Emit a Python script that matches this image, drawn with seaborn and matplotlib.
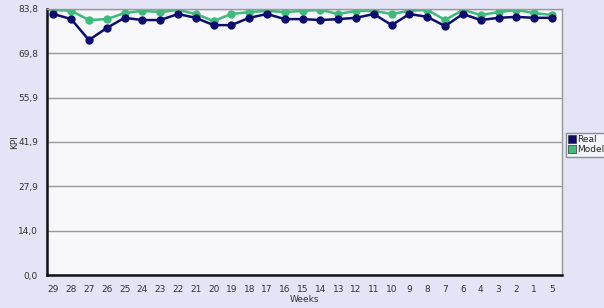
import matplotlib
matplotlib.use("Agg")
import matplotlib.pyplot as plt
from matplotlib.lines import Line2D
import numpy as np
import pandas as pd
import seaborn as sns

weeks = ["29", "28", "27", "26", "25", "24", "23", "22", "21", "20", "19", "18", "17", "16",
         "15", "14", "13", "12", "11", "10", "9", "8", "7", "6", "4", "3", "2", "1", "5"]
real = [82.2, 80.6, 74.0, 77.8, 81.0, 80.3, 80.3, 82.2, 81.0, 78.7, 78.7, 81.0, 82.2, 80.6,
        80.6, 80.3, 80.6, 81.0, 82.2, 78.7, 82.2, 81.3, 78.4, 82.2, 80.3, 81.0, 81.3, 81.0, 81.0]
model = [83.5, 83.2, 80.3, 80.6, 82.5, 83.2, 82.8, 83.5, 82.2, 80.0, 82.2, 82.8, 83.2, 82.8,
         83.2, 83.5, 82.2, 83.2, 83.2, 82.2, 83.2, 83.5, 80.3, 83.5, 81.9, 82.8, 83.5, 82.5, 81.9]
yticks = [0.0, 14.0, 27.9, 41.9, 55.9, 69.8, 83.8]

c_real = "#0d0d70"
c_model = "#3dbb7a"

df = pd.DataFrame({"Weeks": weeks * 2,
                   "KPI": real + model,
                   "serie": ["Real"] * len(weeks) + ["Model"] * len(weeks)})

sns.set_style("white")
plt.rcParams["font.family"] = ["DejaVu Sans"]

fig = plt.figure(figsize=(6.04, 3.08), dpi=100, facecolor="#e4e4f6")
ax = fig.add_axes([0.078, 0.107, 0.852, 0.864])
ax.set_facecolor("#f7f7fc")

sns.lineplot(data=df, x="Weeks", y="KPI", hue="serie", hue_order=["Model", "Real"],
             palette={"Real": c_real, "Model": c_model}, sort=False,
             marker="o", markersize=6, markeredgewidth=0, linewidth=1.8,
             legend=False, ax=ax)

ax.set_ylim(0, 83.8)
ax.set_xlim(-0.35, len(weeks) - 0.45)
ax.set_yticks(yticks)
ax.set_yticklabels([f"{v:.1f}".replace(".", ",") for v in yticks])
ax.grid(axis="y", color="#999999", linewidth=1)
ax.set_axisbelow(True)
ax.tick_params(axis="both", labelsize=6.5, colors="#333333", length=3, width=1.5,
               direction="out")
ax.tick_params(axis="x", pad=4)
for s in ["top", "right"]:
    ax.spines[s].set_color("#999999")
    ax.spines[s].set_linewidth(1)
for s in ["left", "bottom"]:
    ax.spines[s].set_color("#111111")
    ax.spines[s].set_linewidth(1.8)

ax.set_xlabel("Weeks", fontsize=6.5, color="#333333", labelpad=1)
ax.set_ylabel("KPI", fontsize=6.5, color="#333333", labelpad=1)
ax.yaxis.set_label_coords(-0.055, 0.5)

handles = [Line2D([], [], marker="s", linestyle="none", markersize=6,
                  markerfacecolor=c_real, markeredgecolor="#333333", markeredgewidth=0.5),
           Line2D([], [], marker="s", linestyle="none", markersize=6,
                  markerfacecolor=c_model, markeredgecolor="#333333", markeredgewidth=0.5)]
leg = fig.legend(handles, ["Real", "Model"], loc="center left", bbox_to_anchor=(0.937, 0.53),
                 fontsize=6.5, frameon=True, fancybox=False, handletextpad=0.1,
                 borderpad=0.3, labelspacing=0.1, handlelength=0.8, borderaxespad=0)
leg.get_frame().set_edgecolor("#777777")
leg.get_frame().set_facecolor("#f7f7fc")

fig.savefig("out.png", dpi=100, facecolor=fig.get_facecolor())
